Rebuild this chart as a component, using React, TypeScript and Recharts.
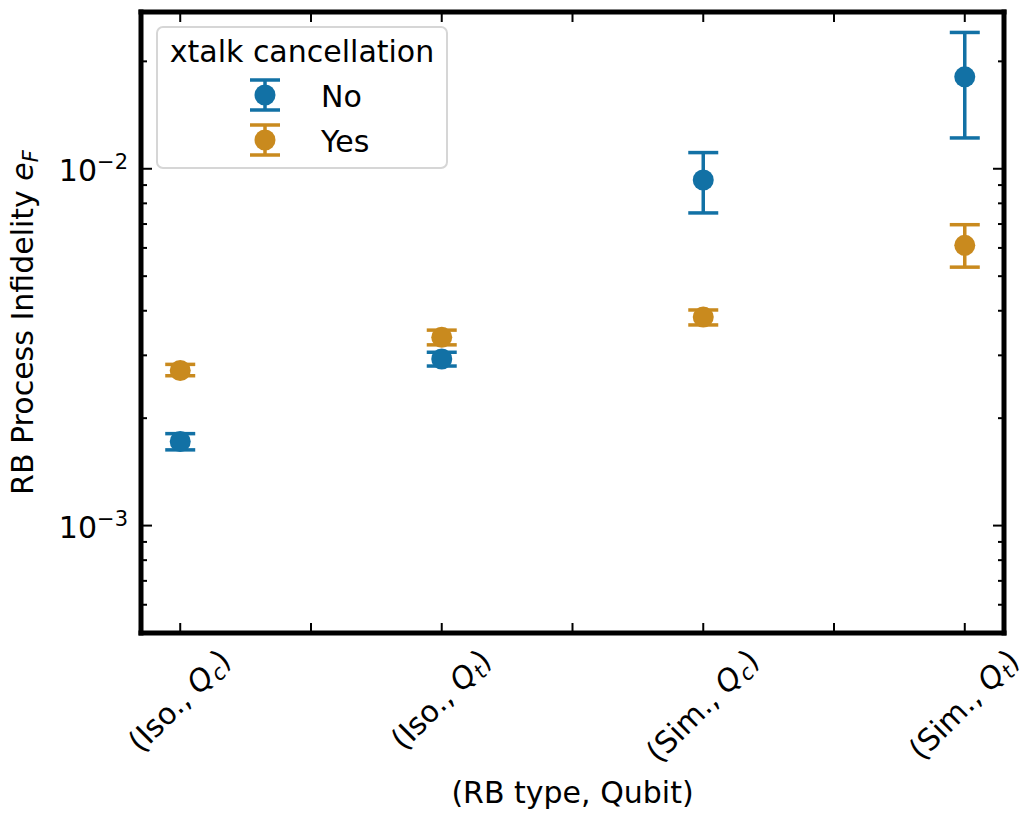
import { ScatterChart, Scatter, XAxis, YAxis, ErrorBar, Legend } from 'recharts'

const FONT = '"DejaVu Sans", sans-serif'
const BLUE = '#1271a5'
const ORANGE = '#c98a1e'

// x categories: (RB type, qubit)
const rbTypes = ['Iso.', 'Iso.', 'Sim.', 'Sim.']
const qubits = ['c', 't', 'c', 't']

// without crosstalk cancellation: value, lower and upper error bar ends
const noValues = [1.72e-3, 2.93e-3, 9.3e-3, 1.81e-2]
const noLower = [1.63e-3, 2.8e-3, 7.52e-3, 1.22e-2]
const noUpper = [1.81e-3, 3.06e-3, 1.11e-2, 2.41e-2]

// with crosstalk cancellation
const yesValues = [2.72e-3, 3.37e-3, 3.84e-3, 6.1e-3]
const yesLower = [2.63e-3, 3.21e-3, 3.65e-3, 5.3e-3]
const yesUpper = [2.83e-3, 3.53e-3, 4.02e-3, 6.97e-3]

const xTicks = [0, 0.5, 1, 1.5, 2, 2.5, 3]
const yMajorTicks = [1e-3, 1e-2]
const yMinorTicks = [
  5e-4, 6e-4, 7e-4, 8e-4, 9e-4,
  2e-3, 3e-3, 4e-3, 5e-3, 6e-3, 7e-3, 8e-3, 9e-3,
  2e-2,
]
const yTicks = [...yMinorTicks, ...yMajorTicks].sort((a, b) => a - b)
const yDomain = [5e-4, 0.0275]
const xDomain = [-0.15, 3.15]

const series = [
  { name: 'No', color: BLUE, values: noValues, lower: noLower, upper: noUpper },
  { name: 'Yes', color: ORANGE, values: yesValues, lower: yesLower, upper: yesUpper },
]

const toPoints = (values: number[], lower: number[], upper: number[]) =>
  values.map((v, i) => ({ x: i, y: v, err: [v - lower[i], upper[i] - v] }))

const ctx = typeof document !== 'undefined' ? document.createElement('canvas').getContext('2d') : null
function textWidth(s: string, size: number, italic = false) {
  if (!ctx) return s.length * size * 0.6
  ctx.font = `${italic ? 'italic ' : ''}${size}px "DejaVu Sans"`
  return ctx.measureText(s).width
}

const isMajorY = (v: number) => yMajorTicks.some((m) => Math.abs(m - v) / m < 1e-6)

function LeftTick({ x, y, payload }: any) {
  const major = isMajorY(payload.value)
  const exp = Math.round(Math.log10(payload.value))
  return (
    <g>
      <line x1={x} x2={x + (major ? 11 : 6)} y1={y} y2={y} stroke="#000" strokeWidth={2} />
      {major && (
        <text x={x - 13} y={y + 12} textAnchor="end" fontSize={30} fontFamily={FONT} fill="#000">
          10<tspan dy={-12} fontSize={21}>{'\u2212' + Math.abs(exp)}</tspan>
        </text>
      )}
    </g>
  )
}

function RightTick({ x, y, payload }: any) {
  const major = isMajorY(payload.value)
  return <line x1={x} x2={x - (major ? 11 : 6)} y1={y} y2={y} stroke="#000" strokeWidth={2} />
}

function TopTick({ x, y }: any) {
  return <line x1={x} x2={x} y1={y} y2={y + 10} stroke="#000" strokeWidth={2} />
}

function BottomTick({ x, y, payload }: any) {
  const v = payload.value
  const i = Math.round(v)
  const isCat = Math.abs(v - i) < 1e-9
  let label = null
  if (isCat) {
    const head = `(${rbTypes[i]}, `
    const w =
      textWidth(head, 30) + textWidth('Q', 30, true) + textWidth(qubits[i], 21, true) + textWidth(')', 30)
    const cy = y + 10.5 + (w + 35) * 0.3536
    label = (
      <text
        x={x}
        y={cy + 9}
        textAnchor="middle"
        transform={`rotate(-45 ${x} ${cy})`}
        fontSize={30}
        fontFamily={FONT}
        fill="#000"
      >
        {head}
        <tspan fontStyle="italic">Q</tspan>
        <tspan fontStyle="italic" fontSize={21} dy={5}>{qubits[i]}</tspan>
        <tspan dy={-5}>)</tspan>
      </text>
    )
  }
  return (
    <g>
      <line x1={x} x2={x} y1={y} y2={y - 10} stroke="#000" strokeWidth={2} />
      {label}
    </g>
  )
}

function YLabel({ viewBox }: any) {
  const cx = 33
  const cy = viewBox.y + viewBox.height / 2
  return (
    <text
      x={cx}
      y={cy}
      transform={`rotate(-90 ${cx} ${cy})`}
      textAnchor="middle"
      fontSize={30}
      fontFamily={FONT}
      fill="#000"
    >
      {'RB Process Infidelity '}
      <tspan fontStyle="italic">e</tspan>
      <tspan fontStyle="italic" fontSize={21} dy={5}>F</tspan>
    </text>
  )
}

function XLabel({ viewBox }: any) {
  return (
    <text
      x={viewBox.x + viewBox.width / 2}
      y={803}
      textAnchor="middle"
      fontSize={30}
      fontFamily={FONT}
      fill="#000"
    >
      (RB type, Qubit)
    </text>
  )
}

function LegendBox() {
  return (
    <svg width={292} height={144} style={{ display: 'block' }}>
      <rect x={1} y={1} width={290} height={141} rx={6} fill="#fff" fillOpacity={0.8} stroke="#d6d6d6" strokeWidth={2} />
      <text x={146} y={36} textAnchor="middle" fontSize={30} fontFamily={FONT} fill="#000">
        xtalk cancellation
      </text>
      {series.map((s, k) => {
        const cy = 69 + k * 45
        return (
          <g key={s.name}>
            <line x1={109} x2={109} y1={cy - 15} y2={cy + 15} stroke={s.color} strokeWidth={3.5} />
            <line x1={94} x2={124} y1={cy - 15} y2={cy - 15} stroke={s.color} strokeWidth={3.5} />
            <line x1={94} x2={124} y1={cy + 15} y2={cy + 15} stroke={s.color} strokeWidth={3.5} />
            <circle cx={109} cy={cy} r={10.5} fill={s.color} />
            <text x={165} y={cy + 12} fontSize={30} fontFamily={FONT} fill="#000">
              {s.name}
            </text>
          </g>
        )
      })}
    </svg>
  )
}

const frame = { stroke: '#000', strokeWidth: 5, strokeLinecap: 'square' as const }

export default function App() {
  return (
    <div style={{ position: 'absolute', left: 0, top: 0, background: '#fff' }}>
      <ScatterChart width={1021} height={813} margin={{ top: 0, right: 0, bottom: 0, left: 0 }}>
        <XAxis
          type="number"
          dataKey="x"
          domain={xDomain}
          allowDataOverflow
          ticks={xTicks}
          interval={0}
          height={180}
          tickSize={0}
          tickMargin={0}
          tickLine={false}
          axisLine={frame}
          tick={<BottomTick />}
          label={<XLabel />}
        />
        <XAxis
          xAxisId="top"
          orientation="top"
          type="number"
          dataKey="x"
          domain={xDomain}
          allowDataOverflow
          ticks={xTicks}
          interval={0}
          height={12}
          tickSize={0}
          tickMargin={0}
          tickLine={false}
          axisLine={frame}
          tick={<TopTick />}
        />
        <YAxis
          type="number"
          dataKey="y"
          scale="log"
          domain={yDomain}
          allowDataOverflow
          ticks={yTicks}
          interval={0}
          width={141}
          tickSize={0}
          tickMargin={0}
          tickLine={false}
          axisLine={frame}
          tick={<LeftTick />}
          label={<YLabel />}
        />
        <YAxis
          yAxisId="right"
          orientation="right"
          type="number"
          dataKey="y"
          scale="log"
          domain={yDomain}
          allowDataOverflow
          ticks={yTicks}
          interval={0}
          width={17}
          tickSize={0}
          tickMargin={0}
          tickLine={false}
          axisLine={frame}
          tick={<RightTick />}
        />
        <Legend
          layout="vertical"
          align="center"
          verticalAlign="middle"
          content={<LegendBox />}
          wrapperStyle={{ position: 'absolute', left: 156, top: 26, width: 292, height: 144 }}
        />
        {series.map((s) => (
          <Scatter
            key={s.name}
            name={s.name}
            data={toPoints(s.values, s.lower, s.upper)}
            fill={s.color}
            isAnimationActive={false}
            shape={(p: any) => <circle cx={p.cx} cy={p.cy} r={10.5} fill={s.color} />}
          >
            <ErrorBar
              dataKey="err"
              direction="y"
              width={15}
              strokeWidth={3.5}
              stroke={s.color}
              isAnimationActive={false}
            />
          </Scatter>
        ))}
      </ScatterChart>
    </div>
  )
}
